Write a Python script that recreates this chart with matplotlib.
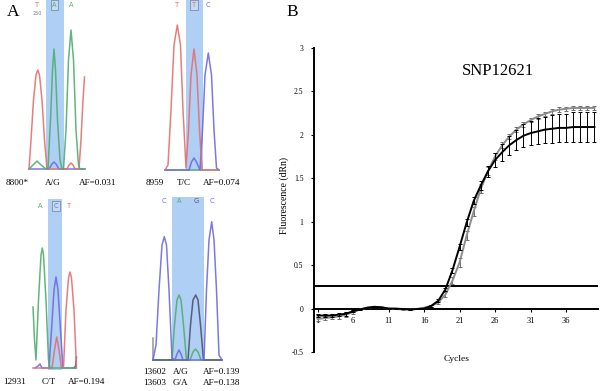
import matplotlib
matplotlib.use("Agg")
import matplotlib.pyplot as plt
from matplotlib.patches import Rectangle

plt.rcParams['font.family'] = ['Liberation Serif', 'DejaVu Serif']

# ---------------- Panel B data (qPCR amplification) ----------------
cycles = list(range(1, 41))
black_vals = [-0.08, -0.08, -0.08, -0.07, -0.06, -0.03, -0.01, 0.01, 0.02, 0.015,
              0.0, 0.0, -0.005, -0.01, -0.005, 0.0, 0.03, 0.09, 0.22, 0.44,
              0.71, 0.99, 1.24, 1.42, 1.58, 1.71, 1.80, 1.88, 1.94, 1.99,
              2.02, 2.04, 2.06, 2.07, 2.08, 2.08, 2.09, 2.09, 2.09, 2.09]
black_sd = [0.02, 0.02, 0.02, 0.02, 0.02, 0.015, 0.005, 0.005, 0.005, 0.005,
            0.005, 0.005, 0.005, 0.005, 0.005, 0.005, 0.01, 0.015, 0.02, 0.03,
            0.03, 0.04, 0.04, 0.05, 0.06, 0.08, 0.10, 0.11, 0.12, 0.13,
            0.14, 0.15, 0.15, 0.16, 0.16, 0.16, 0.17, 0.17, 0.17, 0.17]
gray_vals = [-0.12, -0.11, -0.10, -0.09, -0.07, -0.04, -0.01, 0.01, 0.02, 0.015,
             0.0, -0.005, -0.01, -0.01, -0.005, 0.01, 0.03, 0.07, 0.16, 0.32,
             0.53, 0.84, 1.12, 1.38, 1.58, 1.75, 1.88, 1.98, 2.06, 2.12,
             2.17, 2.21, 2.24, 2.27, 2.29, 2.30, 2.31, 2.31, 2.31, 2.31]
gray_sd = [0.025, 0.025, 0.025, 0.025, 0.025, 0.02, 0.005, 0.005, 0.005, 0.005,
           0.005, 0.005, 0.005, 0.005, 0.005, 0.005, 0.01, 0.015, 0.03, 0.04,
           0.05, 0.05, 0.05, 0.05, 0.045, 0.04, 0.035, 0.03, 0.03, 0.025,
           0.025, 0.025, 0.025, 0.025, 0.025, 0.025, 0.025, 0.025, 0.025, 0.025]
threshold = 0.26
x_ticks = [1, 6, 11, 16, 21, 26, 31, 36]
y_ticks = [-0.5, 0, 0.5, 1, 1.5, 2, 2.5, 3]
y_tick_labels = ['-0.5', '0', '0.5', '1', '1.5', '2', '2.5', '3']

# ---------------- Panel A data (chromatogram traces, pixel coords) ----------------
# chromatogram 1 (8800)
c1_red_x = [29, 31, 33.5, 36, 37.7, 39.5, 42, 44.5, 47, 67, 69, 71, 73, 75, 79, 81, 83, 84.5]
c1_red_y = [169, 140, 100, 75, 70, 75, 100, 140, 169, 169, 165, 163, 165, 169, 169, 140, 100, 77]
c1_green_x = [29, 33, 37, 41, 46, 48, 50.5, 52.5, 54, 55.5, 57.5, 60, 62,
              63.5, 66, 68.5, 71, 73.5, 76, 78.5, 80, 85]
c1_green_y = [169, 165, 161, 165, 169, 169, 120, 70, 49, 70, 120, 160, 169,
              169, 130, 60, 30, 60, 130, 165, 169, 169]
c1_blue_x = [29, 49, 52, 54, 56, 59, 85]
c1_blue_y = [169, 169, 164, 162, 164, 169, 169]
# chromatogram 2 (8959)
c2_red_x = [165, 168, 171, 174, 177.3, 180.5, 183, 186, 188.5, 191, 194, 197, 199.5, 202, 218]
c2_red_y = [170, 165, 110, 45, 25, 45, 110, 168, 130, 75, 49, 75, 130, 170, 170]
c2_blue_x = [165, 189, 191.5, 194, 196.5, 200, 202.5, 205, 208.3, 211.5, 214, 216.5, 219]
c2_blue_y = [170, 170, 162, 158, 162, 170, 130, 75, 53, 75, 130, 168, 170]
c2_green_x = [165, 219]
c2_green_y = [170, 170]
# chromatogram 3 (12931)
c3_green_x = [33, 34.5, 36, 38.5, 41, 42.3, 43.5, 46, 48.5, 50, 76]
c3_green_y = [307, 340, 360, 300, 255, 248, 255, 300, 360, 368, 368]
c3_blue_x = [35, 38, 40, 42, 49, 51.5, 54, 56, 58, 60.5, 63, 76]
c3_blue_y = [368, 366, 364, 368, 368, 330, 290, 277, 290, 330, 368, 368]
c3_red_x = [33, 52, 54.5, 56.7, 59, 61.5, 63.5, 66, 68.5, 70, 71.5, 74, 76.5]
c3_red_y = [368, 368, 350, 337, 350, 368, 368, 310, 278, 272, 278, 310, 368]
c3_dark_x = [74, 75.5, 76.5]
c3_dark_y = [368, 366, 357]
# chromatogram 4 (13602/13603)
c4_blue_x = [153, 156, 159, 162, 164.3, 166.5, 169, 172, 175, 177, 179, 181, 183,
             204, 206.5, 209, 211.7, 214, 216.5, 219, 222]
c4_blue_y = [360, 345, 290, 245, 236.7, 245, 290, 358, 360, 354, 350, 354, 360,
             360, 290, 240, 221.7, 240, 290, 355, 360]
c4_green_x = [153, 172, 174.5, 177, 179, 181, 183.5, 186.5, 190, 193, 195.5, 198, 201, 222]
c4_green_y = [360, 360, 325, 300, 295, 300, 325, 360, 360, 352, 349, 352, 360, 360]
c4_dark_x = [153, 188, 190.5, 193, 195.7, 198, 200.5, 203.5, 222]
c4_dark_y = [360, 360, 325, 300, 295, 300, 325, 360, 360]
c4_edge_x = [152.5, 152.5]
c4_edge_y = [338, 360]

RED = '#e56f6f'
GREEN = '#4fae6e'
BLUE = '#6a6ae6'
DARK = '#50506e'
BAND = '#b0cff4'

fig = plt.figure(figsize=(6.0, 3.91), dpi=100)

# overlay axes in pixel coordinates for panel A
ov = fig.add_axes([0, 0, 1, 1])
ov.set_xlim(0, 600)
ov.set_ylim(391, 0)
ov.axis('off')
ov.patch.set_alpha(0)

# highlight bands
for (x0, x1, y0, y1) in [(45.7, 64, 0, 170), (185.7, 202.7, 0, 171),
                         (47.7, 62.3, 199, 370), (171.7, 204.3, 197, 361)]:
    ov.add_patch(Rectangle((x0, y0), x1 - x0, y1 - y0, facecolor=BAND, edgecolor='none', zorder=1))

traces = [
    (c1_blue_x, c1_blue_y, BLUE), (c1_red_x, c1_red_y, RED), (c1_green_x, c1_green_y, GREEN),
    (c2_green_x, c2_green_y, GREEN), (c2_blue_x, c2_blue_y, BLUE), (c2_red_x, c2_red_y, RED),
    (c3_dark_x, c3_dark_y, DARK), (c3_blue_x, c3_blue_y, BLUE), (c3_red_x, c3_red_y, RED),
    (c3_green_x, c3_green_y, GREEN),
    (c4_edge_x, c4_edge_y, '#8a8a8a'), (c4_green_x, c4_green_y, GREEN), (c4_dark_x, c4_dark_y, DARK),
    (c4_blue_x, c4_blue_y, BLUE),
]
for xs, ys, col in traces:
    ov.plot(xs, ys, color=col, lw=1.1, alpha=0.9, zorder=2, solid_joinstyle='round')

# base letters above chromatograms
base_letters = [
    (37, 5, 'T', RED, False), (54.5, 5, 'A', GREEN, True), (71, 5, 'A', GREEN, False),
    (177, 5, 'T', RED, False), (194, 5, 'T', RED, True), (208, 5, 'C', BLUE, False),
    (40, 206, 'A', GREEN, False), (56, 206, 'C', BLUE, True), (69, 206, 'T', RED, False),
    (164, 201, 'C', BLUE, False), (179, 201, 'A', GREEN, False), (196, 201, 'G', DARK, False),
    (212, 201, 'C', BLUE, False),
]
for x, y, s, col, boxed in base_letters:
    kw = dict(ha='center', va='center', fontsize=4.8, color=col, zorder=3,
              family=['DejaVu Sans'])
    if boxed:
        kw['bbox'] = dict(boxstyle='square,pad=0.25', fc='#c4daf6', ec='#5a6a88', lw=0.4)
    ov.text(x, y, s, **kw)
ov.text(37, 13.5, '250', ha='center', va='center', fontsize=3.5, color='#777777',
        family=['DejaVu Sans'], zorder=3)

# panel labels
ov.text(13, 12.5, 'A', ha='center', va='center', fontsize=12.5)
ov.text(292, 12.5, 'B', ha='center', va='center', fontsize=12.5)

# captions
fs_cap = 6.6
captions = [
    (6, 183, '8800*'), (45, 183, 'A/G'), (79, 183, 'AF=0.031'),
    (146, 183, '8959'), (177, 183, 'T/C'), (203, 183, 'AF=0.074'),
    (3, 382, '12931'), (42, 382, 'C/T'), (68, 382, 'AF=0.194'),
    (143, 372, '13602'), (173, 372, 'A/G'), (203, 372, 'AF=0.139'),
    (143, 383, '13603'), (173, 383, 'G/A'), (203, 383, 'AF=0.138'),
]
for x, y, s in captions:
    ov.text(x, y, s, ha='left', va='center', fontsize=fs_cap)

# ---------------- Panel B ----------------
axB = fig.add_axes([314 / 600, 1 - 352 / 391, (598 - 314) / 600, (352 - 48) / 391])
axB.patch.set_alpha(0)
axB.set_xlim(0.5, 40.5)
axB.set_ylim(-0.5, 3)

axB.axhline(threshold, color='black', lw=1.4, zorder=2)
axB.errorbar(cycles, gray_vals, yerr=gray_sd, color='#8c8c8c', ecolor='#6e6e6e', lw=1.4,
             elinewidth=0.7, capsize=1.3, capthick=0.7, zorder=3)
axB.errorbar(cycles, black_vals, yerr=black_sd, color='black', ecolor='black', lw=1.4,
             elinewidth=0.7, capsize=1.3, capthick=0.7, zorder=4)

for s in ['top', 'right']:
    axB.spines[s].set_visible(False)
axB.spines['bottom'].set_position(('data', 0))
axB.spines['left'].set_linewidth(1.4)
axB.spines['bottom'].set_linewidth(1.4)
axB.set_xticks(x_ticks)
axB.set_xticklabels([str(t) for t in x_ticks])
axB.set_yticks(y_ticks)
axB.set_yticklabels(y_tick_labels)
axB.tick_params(axis='x', length=2.5, width=0.8, labelsize=6, pad=3.5)
axB.tick_params(axis='y', length=2.5, width=0.8, labelsize=5.5, pad=5)

axB.text(26.4, 2.73, 'SNP12621', ha='center', va='center', fontsize=12)
ov.text(457, 359, 'Cycles', ha='center', va='center', fontsize=6.8)
ov.text(284, 195, 'Fluorescence (dRn)', ha='center', va='center', fontsize=7, rotation=90)

fig.savefig('out.png', dpi=100)
